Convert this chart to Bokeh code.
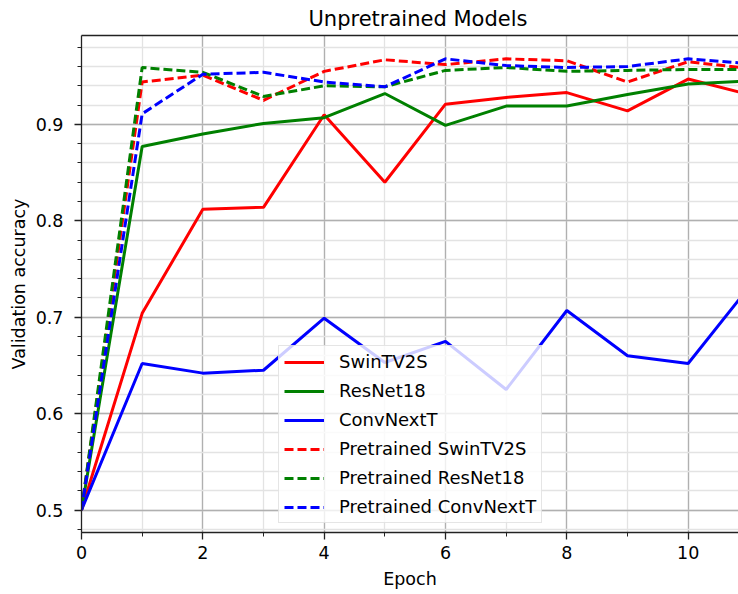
from bokeh.plotting import figure
from bokeh.models import (SingleIntervalTicker, LinearAxis, FixedTicker, Legend,
                          LegendItem, Range1d, Title)
from bokeh.embed import file_html
from bokeh.resources import INLINE

epochs = [0, 1, 2, 3, 4, 5, 6, 7, 8, 9, 10, 11]
swin = [0.500, 0.704, 0.812, 0.814, 0.910, 0.840, 0.921, 0.928, 0.933, 0.914, 0.947, 0.931]
resnet = [0.500, 0.877, 0.890, 0.901, 0.907, 0.932, 0.899, 0.919, 0.919, 0.931, 0.942, 0.945]
convnext = [0.500, 0.652, 0.642, 0.645, 0.699, 0.653, 0.675, 0.625, 0.707, 0.660, 0.652, 0.731]
pre_swin = [0.500, 0.944, 0.951, 0.925, 0.955, 0.967, 0.962, 0.968, 0.966, 0.944, 0.965, 0.958]
pre_resnet = [0.500, 0.959, 0.954, 0.929, 0.940, 0.939, 0.956, 0.959, 0.955, 0.956, 0.957, 0.957]
pre_convnext = [0.500, 0.911, 0.952, 0.954, 0.944, 0.939, 0.968, 0.961, 0.959, 0.960, 0.968, 0.963]

labels = ["SwinTV2S", "ResNet18", "ConvNextT",
          "Pretrained SwinTV2S", "Pretrained ResNet18", "Pretrained ConvNextT"]

FONT = "DejaVu Sans"

p = figure(width=738, height=594, output_backend="svg", toolbar_location=None,
           x_range=Range1d(0, 10.83), y_range=Range1d(0.4767, 0.9922),
           min_border_left=81, min_border_right=0, min_border_top=2, min_border_bottom=62,
           title=None)
p.outline_line_color = None
p.background_fill_color = "white"
p.border_fill_color = "white"

# top spine (added first so it sits next to the frame)
top = LinearAxis(ticker=FixedTicker(ticks=[]), major_tick_out=0, major_tick_in=0,
                 minor_tick_out=0, minor_tick_in=0, major_label_text_font_size="0px",
                 axis_line_color="#222222", axis_line_width=1.3)
p.add_layout(top, "above")

p.add_layout(Title(text="Unpretrained Models", align="left", offset=227,
                   text_font=FONT, text_font_size="21px", text_font_style="normal",
                   text_color="black", standoff=9), "above")

xax = p.below[0]
yax = p.left[0]
xax.ticker = SingleIntervalTicker(interval=2, num_minor_ticks=2)
yax.ticker = SingleIntervalTicker(interval=0.1, num_minor_ticks=5)

for ax in (xax, yax):
    ax.axis_line_color = "#222222"
    ax.axis_line_width = 1.3
    ax.major_tick_line_color = "#222222"
    ax.minor_tick_line_color = "#222222"
    ax.major_tick_line_width = 1.3
    ax.minor_tick_line_width = 1.0
    ax.major_tick_out = 7
    ax.major_tick_in = 0
    ax.minor_tick_out = 4
    ax.minor_tick_in = 0
    ax.major_label_text_font = FONT
    ax.major_label_text_font_size = "17.5px"
    ax.major_label_text_color = "black"
    ax.axis_label_text_font = FONT
    ax.axis_label_text_font_size = "17.5px"
    ax.axis_label_text_font_style = "normal"
    ax.axis_label_text_color = "black"

xax.axis_label = "Epoch"
yax.axis_label = "Validation accuracy"
xax.major_label_standoff = 6
yax.major_label_standoff = 11
xax.axis_label_standoff = 7
yax.axis_label_standoff = 4

p.xgrid.ticker = SingleIntervalTicker(interval=2, num_minor_ticks=2)
p.ygrid.ticker = SingleIntervalTicker(interval=0.1, num_minor_ticks=5)
for g in (p.xgrid[0], p.ygrid[0]):
    g.grid_line_color = "#b0b0b0"
    g.grid_line_width = 1.3
    g.minor_grid_line_color = "#e3e3e3"
    g.minor_grid_line_width = 1.3

series = [swin, resnet, convnext, pre_swin, pre_resnet, pre_convnext]
colors = ["red", "green", "blue", "red", "green", "blue"]
dashes = ["solid", "solid", "solid", "9 4", "9 4", "9 4"]

items = []
for ys, c, d, lab in zip(series, colors, dashes, labels):
    r = p.line(epochs, ys, line_color=c, line_width=3, line_dash=d)
    items.append(LegendItem(label=lab, renderers=[r]))

legend = Legend(items=items, location=(197, 9), label_text_font=FONT,
                label_text_font_size="18px", label_text_color="black",
                glyph_width=40, glyph_height=20, label_height=20, label_standoff=15,
                spacing=8, padding=5, margin=0,
                background_fill_color="white", background_fill_alpha=0.8,
                border_line_color="#cccccc", border_line_width=1.3)
p.add_layout(legend, "center")

open("out.html", "w").write(file_html(p, INLINE))
